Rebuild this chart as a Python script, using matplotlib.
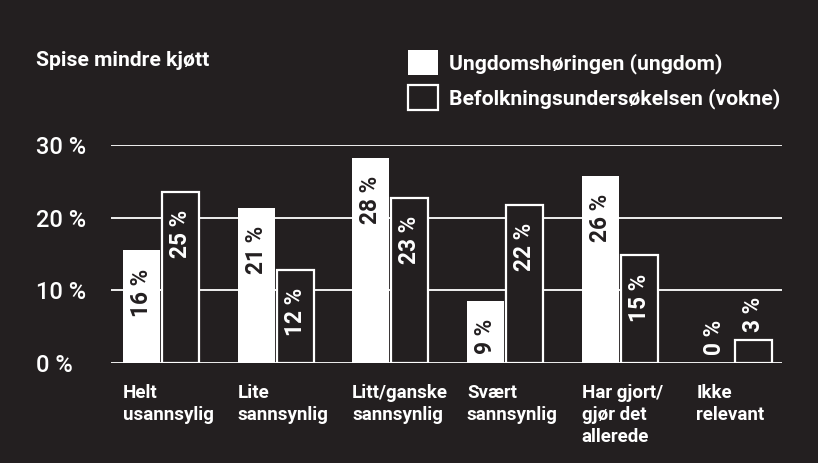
import matplotlib
matplotlib.use("Agg")
import matplotlib.pyplot as plt
from matplotlib.patches import Patch
from matplotlib.transforms import blended_transform_factory
import numpy as np

plt.rcParams['font.family'] = ['Roboto', 'DejaVu Sans']

# ---- data ----
categories = ["Helt\nusannsylig", "Lite\nsannsynlig", "Litt/ganske\nsannsynlig",
              "Svært\nsannsynlig", "Har gjort/\ngjør det\nallerede", "Ikke\nrelevant"]
ungdom = [15.5, 21.3, 28.2, 8.6, 25.7, 0.0]          # bar heights as drawn
voksne = [23.6, 12.8, 22.7, 21.8, 14.8, 3.2]
ungdom_labels = ["16 %", "21 %", "28 %", "9 %", "26 %", "0 %"]
voksne_labels = ["25 %", "12 %", "23 %", "22 %", "15 %", "3 %"]
series_names = ["Ungdomshøringen (ungdom)", "Befolkningsundersøkelsen (vokne)"]
yticks = [0, 10, 20, 30]
ytick_labels = ["0 %", "10 %", "20 %", "30 %"]
title = "Spise mindre kjøtt"

BG = "#231f20"
W, H = 818, 463
fig = plt.figure(figsize=(W / 100, H / 100), dpi=100, facecolor=BG)

ax_l, ax_r, ax_top, ax_bot = 110.7, 781.7, 145.0, 363.0
ax = fig.add_axes([ax_l / W, 1 - ax_bot / H, (ax_r - ax_l) / W, (ax_bot - ax_top) / H])
ax.set_facecolor(BG)

x = np.arange(len(categories))
w = 0.323
g = 0.017
ax.set_xlim(-0.438, 5.414)
ax.set_ylim(0, 30)

for yv in yticks:
    ax.axhline(yv, color="white", lw=1.3, zorder=0)

xw = x - w / 2 - g / 2
xv = x + w / 2 + g / 2
ax.bar(xw, ungdom, width=w, color="white", edgecolor="none", zorder=2)
ax.bar(xv, voksne, width=w, color=BG, edgecolor="white", linewidth=1.6, zorder=2)

def put_labels(xs, vals, labels, incolor):
    for xi, v, lab in zip(xs, vals, labels):
        if v >= 5:
            ax.annotate(lab, xy=(xi, v), xytext=(0, -18), textcoords="offset pixels",
                        rotation=90, ha="center", va="top", color=incolor,
                        fontsize=16.3, fontweight="bold", zorder=3)
        else:
            ax.annotate(lab, xy=(xi, v), xytext=(0, 8), textcoords="offset pixels",
                        rotation=90, ha="center", va="bottom", color="white",
                        fontsize=16.3, fontweight="bold", zorder=3,
                        bbox=dict(facecolor=BG, edgecolor="none", pad=2))

put_labels(xw, ungdom, ungdom_labels, BG)
put_labels(xv, voksne, voksne_labels, "white")

# category labels left-aligned at group start
trans = blended_transform_factory(ax.transData, ax.transAxes)
for xi, cat in zip(x - w - g / 2, categories):
    ax.text(xi, -0.095, cat, transform=trans, ha="left", va="top", color="white",
            fontsize=13.5, fontweight="bold", linespacing=1.28)

ax.set_xticks([])
ax.set_yticks(yticks)
ax.set_yticklabels(ytick_labels, color="white", fontsize=17, fontweight="medium")
ax.tick_params(axis="y", length=0, pad=(ax_l - 36) * 0.72)
for lab in ax.get_yticklabels():
    lab.set_horizontalalignment("left")
for s in ax.spines.values():
    s.set_visible(False)

fig.text(36 / W, 1 - 66.5 / H, title, color="white", fontsize=15.2, fontweight="bold",
         ha="left", va="baseline")

handles = [Patch(facecolor="white", edgecolor="white", linewidth=0),
           Patch(facecolor=BG, edgecolor="white", linewidth=1.6)]
leg = fig.legend(handles, series_names, loc="upper left",
                 bbox_to_anchor=(408 / W, 1 - 50 / H), bbox_transform=fig.transFigure,
                 frameon=False, borderpad=0, borderaxespad=0,
                 handlelength=1.4, handleheight=1.45, handletextpad=0.55,
                 labelspacing=0.45, prop=dict(size=15.2, weight="bold"))
for t in leg.get_texts():
    t.set_color("white")

fig.savefig("out.png", dpi=100, facecolor=BG)
